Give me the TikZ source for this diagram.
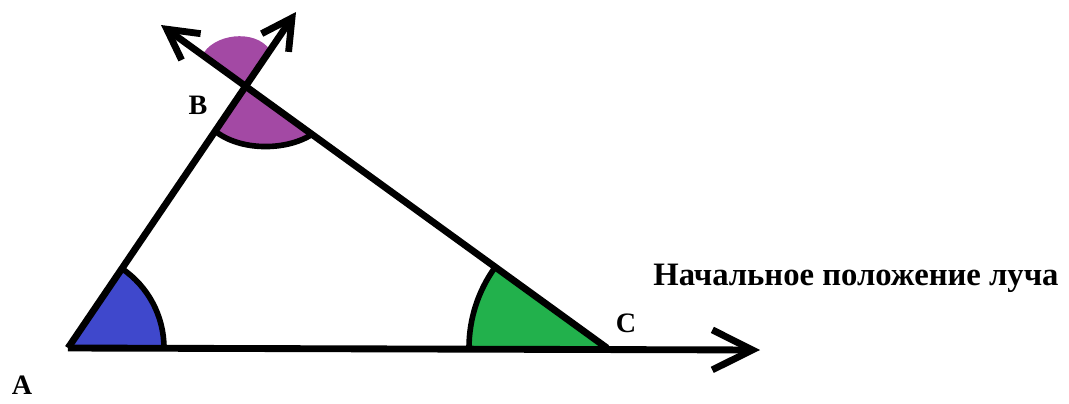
\documentclass[tikz,border=0pt]{standalone}
\usepackage{fontspec}
\setmainfont{Liberation Serif}
\usetikzlibrary{arrows.meta,angles}

\definecolor{sectorblue}{HTML}{3F48CC}
\definecolor{sectorgreen}{HTML}{22B14C}
\definecolor{sectorpurple}{HTML}{A349A4}

\begin{document}
\begin{tikzpicture}[x=0.2mm, y=-0.2mm,
  ray/.style={line width=3.9pt},
  bigtip/.style={-{Straight Barb[length=8mm,width=8mm]}},
  smalltip/.style={-{Straight Barb[length=6mm,width=6.5mm]}},
  ptname/.style={font=\bfseries\fontsize{16}{18}\selectfont, inner sep=0pt},
  sector/.style={draw, line width=3.2pt}
]
\useasboundingbox (0,0) rectangle (1069,403);

% vertices and ray ends
\coordinate (A) at (68,348);
\coordinate (B) at (245,87);
\coordinate (C) at (607,348);
\coordinate (ray end) at (760,350);
\coordinate (ab end) at (296,12);
\coordinate (cb end) at (161,25);

% ends of the two purple arcs at B
\coordinate (b low left) at (215,131);
\coordinate (b low right) at (311,135);
\coordinate (b up left) at (202,56);
\coordinate (b up right) at (270,50);

% angle sectors
\pic[sector, fill=sectorblue, angle radius=19.2mm] {angle=C--A--B};
\pic[sector, fill=sectorgreen, angle radius=27.6mm] {angle=B--C--A};
\fill[sectorpurple] (B) -- (b low left) .. controls (240,151) and (285,151) .. (b low right) -- cycle;
\draw[line width=3.2pt] (b low left) .. controls (240,151) and (285,151) .. (b low right);
\fill[sectorpurple] (B) -- (b up left) .. controls (212,34) and (255,28) .. (b up right) -- cycle;

% rays
\draw[ray, bigtip] (A) -- (ray end);
\draw[ray, smalltip] (A) -- (ab end);
\draw[ray, smalltip] (C) -- (cb end);

\node[ptname] (lA) at (22,385) {A};
\node[ptname] (lB) at (198,105) {B};
\node[ptname] (lC) at (626,323) {C};
\node[ptname, font=\bfseries\fontsize{18.6}{21}\selectfont, anchor=west] (caption) at (653,278) {Начальное положение луча};
\end{tikzpicture}
\end{document}
